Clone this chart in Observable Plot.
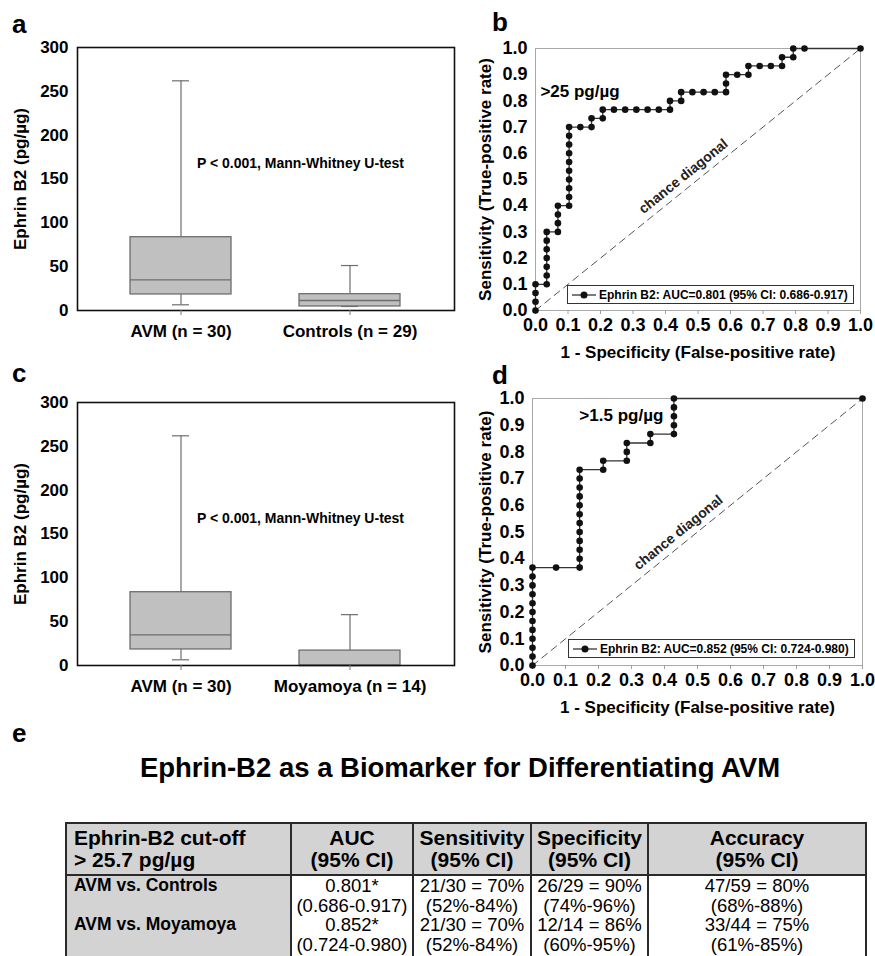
<!DOCTYPE html>
<html><head><meta charset="utf-8">
<script src="https://cdn.jsdelivr.net/npm/d3@7"></script>
<script src="https://cdn.jsdelivr.net/npm/@observablehq/plot@0.6"></script>
<style>
body{margin:0;background:#fff;}
#page{position:relative;width:875px;height:956px;overflow:hidden;background:#fff;font-family:Arial,"Liberation Sans",Helvetica,sans-serif;color:#000;}
.plab{position:absolute;font-weight:bold;font-size:26px;line-height:26px;}
.legend{position:absolute;background:#fff;border:1px solid #333;box-sizing:border-box;font-weight:bold;font-size:12px;line-height:16px;display:flex;align-items:center;white-space:nowrap;}
.legend svg{display:block;margin:0 3px 0 4px;}
#title{position:absolute;left:60px;width:800px;top:752px;text-align:center;font-weight:bold;font-size:27.5px;line-height:32px;}
#tbl{position:absolute;left:65px;top:822px;border-collapse:collapse;table-layout:fixed;width:800px;}
#tbl th,#tbl td{border:2px solid #2a2a2a;padding:0 2px;white-space:pre-line;}
#tbl th{background:#d3d3d3;font-weight:bold;text-align:center;padding:3px 2px;font-size:21px;line-height:22px;}
#tbl th.first{text-align:left;padding-left:7px;}
#tbl td{text-align:center;vertical-align:top;font-size:18.5px;line-height:19.5px;}
#tbl td.first{background:#d3d3d3;font-weight:bold;text-align:left;padding-left:7px;font-size:17.5px;}
#tbl tr.r0 td{border-bottom:none;padding-top:0;}
#tbl tr.r1 td{border-top:none;padding-bottom:12px;}
</style></head><body><div id="page"></div>
<script>
// ---------------- DATA ----------------
// Box plots (panel a)
const boxGroupsA = ["AVM (n = 30)", "Controls (n = 29)"];
const boxLowA  = [6.5, 4.6];
const boxQ1A   = [18.3, 4.6];
const boxMedA  = [35, 11.4];
const boxQ3A   = [83.6, 18.6];
const boxHighA = [262, 51.3];
// Box plots (panel c)
const boxGroupsC = ["AVM (n = 30)", "Moyamoya (n = 14)"];
const boxLowC  = [6.5, 0];
const boxQ1C   = [18.3, 0];
const boxMedC  = [35, 0];
const boxQ3C   = [83.6, 17];
const boxHighC = [262, 58];
const boxTicks = [0, 50, 100, 150, 200, 250, 300];
const boxYLabel = "Ephrin B2 (pg/µg)";
const boxNote = "P < 0.001, Mann-Whitney U-test";

// ROC curve b: false-positive counts (of 29 controls), true-positive counts (of 30 AVM)
const rocB_nNeg = 29, rocB_nPos = 30;
const rocB_fp = [0,0,0,0, 1,1,1,1,1,1,1, 2,2,2,2, 3,3,3,3,3,3,3,3,3,3,
                 4,5,5,6,6, 7,8,9,10,11,12,12, 13,13, 14,15,16,17,17,17,
                 18,19,19, 20,21,22,22, 23,23, 24, 29];
const rocB_tp = [0,1,2,3, 3,4,5,6,7,8,9, 9,10,11,12, 12,13,14,15,16,17,18,19,20,21,
                 21,21,22,22,23, 23,23,23,23,23,23,24, 24,25, 25,25,25,25,26,27,
                 27,27,28, 28,28,28,29, 29,30, 30, 30];
// ROC curve d: false-positive counts (of 14 Moyamoya), true-positive counts (of 30 AVM)
const rocD_nNeg = 14, rocD_nPos = 30;
const rocD_fp = [0,0,0,0,0,0,0,0,0,0,0,0, 1, 2,2,2,2,2,2,2,2,2,2,2,2,
                 3,3, 4,4,4, 5,5, 6,6,6,6,6, 14];
const rocD_tp = [0,1,2,3,4,5,6,7,8,9,10,11, 11, 11,12,13,14,15,16,17,18,19,20,21,22,
                 22,23, 23,24,25, 25,26, 26,27,28,29,30, 30];
const rocTicks = [0, 0.1, 0.2, 0.3, 0.4, 0.5, 0.6, 0.7, 0.8, 0.9, 1.0];
const chance = [0, 1];
const rocCutB = ">25 pg/µg", rocCutD = ">1.5 pg/µg";
const rocLegendB = "Ephrin B2: AUC=0.801 (95% CI: 0.686-0.917)";
const rocLegendD = "Ephrin B2: AUC=0.852 (95% CI: 0.724-0.980)";
const rocXTitle = "1 - Specificity (False-positive rate)";
const rocYTitle = "Sensitivity (True-positive rate)";
const diagLabel = "chance diagonal";

// Table (panel e)
const tableTitle = "Ephrin-B2 as a Biomarker for Differentiating AVM";
const tableHeader = ["Ephrin-B2 cut-off\n> 25.7 pg/µg", "AUC\n(95% CI)", "Sensitivity\n(95% CI)", "Specificity\n(95% CI)", "Accuracy\n(95% CI)"];
const comparisons = ["AVM vs. Controls", "AVM vs. Moyamoya"];
const aucVal = ["0.801*", "0.852*"];
const aucCI  = ["(0.686-0.917)", "(0.724-0.980)"];
const sensVal = ["21/30 = 70%", "21/30 = 70%"];
const sensCI  = ["(52%-84%)", "(52%-84%)"];
const specVal = ["26/29 = 90%", "12/14 = 86%"];
const specCI  = ["(74%-96%)", "(60%-95%)"];
const accVal = ["47/59 = 80%", "33/44 = 75%"];
const accCI  = ["(68%-88%)", "(61%-85%)"];
const panelLetters = ["a", "b", "c", "d", "e"];

// ---------------- DRAW ----------------
const FONT = 'Arial, "Liberation Sans", Helvetica, sans-serif';
const page = document.getElementById("page");

function place(el, left, top) {
  el.style.position = "absolute";
  el.style.left = left + "px";
  el.style.top = top + "px";
  page.appendChild(el);
}

function boxPanel({groups, lo, q1, med, q3, hi, left, top}) {
  const data = groups.map((g, i) => ({g, lo: lo[i], q1: q1[i], med: med[i], q3: q3[i], hi: hi[i]}));
  const W = 470, H = 350, mL = 77, mR = 16, mT = 47, mB = 40;
  const gray = "#6e6e6e";
  const svg = Plot.plot({
    width: W, height: H, marginLeft: mL, marginRight: mR, marginTop: mT, marginBottom: mB,
    style: {fontFamily: FONT, fontWeight: "bold", fontSize: "17px", color: "#000", background: "transparent", overflow: "visible"},
    x: {type: "band", domain: groups, paddingInner: 0.4, paddingOuter: 0.31},
    y: {domain: [0, 300]},
    marks: [
      Plot.ruleX(data, {x: "g", y1: "lo", y2: "q1", stroke: gray, strokeWidth: 1.2}),
      Plot.ruleX(data, {x: "g", y1: "q3", y2: "hi", stroke: gray, strokeWidth: 1.2}),
      Plot.tickY(data, {x: "g", y: "lo", inset: 42, stroke: gray, strokeWidth: 1.2}),
      Plot.tickY(data, {x: "g", y: "hi", inset: 42, stroke: gray, strokeWidth: 1.2}),
      Plot.barY(data, {x: "g", y1: "q1", y2: "q3", fill: "#c0c0c0", stroke: gray, strokeWidth: 1.3}),
      Plot.tickY(data, {x: "g", y: "med", stroke: gray, strokeWidth: 1.3}),
      Plot.frame({stroke: "#111", strokeWidth: 1.6}),
      Plot.axisY({ticks: boxTicks, tickSize: 0, tickPadding: 9, fontSize: 17, label: null}),
      Plot.axisX({tickSize: 5, tickPadding: 9, stroke: "#777", fontSize: 17, label: null}),
      Plot.text([boxYLabel], {text: d => d, frameAnchor: "left", textAnchor: "middle", lineAnchor: "middle", rotate: -90, dx: -57, fontSize: 17}),
      Plot.text([boxNote], {text: d => d, frameAnchor: "top", textAnchor: "middle", lineAnchor: "middle", dx: 34.5, dy: 116.5, fontSize: 14})
    ]
  });
  place(svg, left, top);
}

function rocPanel({fp, tp, nNeg, nPos, left, top, mL, mR, mT, mB, cut, cutX, cutY, diagX, diagY, yDx, legend, legLeft, legTop}) {
  const W = 405, H = 365;
  const pts = fp.map((f, i) => ({x: f / nNeg, y: tp[i] / nPos}));
  const pw = W - mL - mR, ph = H - mT - mB;
  const ang = -Math.atan2(ph, pw) * 180 / Math.PI;
  const fmt = d3.format(".1f");
  const svg = Plot.plot({
    width: W, height: H, marginLeft: mL, marginRight: mR, marginTop: mT, marginBottom: mB,
    style: {fontFamily: FONT, fontWeight: "bold", fontSize: "18px", color: "#000", background: "transparent", overflow: "visible"},
    x: {domain: [0, 1]},
    y: {domain: [0, 1]},
    marks: [
      Plot.frame({stroke: "#a8a8a8", strokeWidth: 1}),
      Plot.axisX({ticks: rocTicks, tickFormat: fmt, tickSize: 4, tickPadding: 4, stroke: "#a0a0a0", fontSize: 18, label: null}),
      Plot.axisY({ticks: rocTicks, tickFormat: fmt, tickSize: 0, tickPadding: 8, fontSize: 18, label: null}),
      Plot.line(chance, {x: d => d, y: d => d, stroke: "#555", strokeWidth: 1, strokeDasharray: "7,5"}),
      Plot.text([diagLabel], {text: d => d, x: () => diagX, y: () => diagY, rotate: ang, fontSize: 14, fill: "#222"}),
      Plot.line(pts, {x: "x", y: "y", stroke: "#333", strokeWidth: 1.3}),
      Plot.dot(pts, {x: "x", y: "y", r: 3.3, fill: "#111", stroke: "none"}),
      Plot.text([cut], {text: d => d, x: () => cutX, y: () => cutY, textAnchor: "start", fontSize: 17}),
      Plot.text([rocYTitle], {text: d => d, frameAnchor: "left", textAnchor: "middle", lineAnchor: "middle", rotate: -90, dx: yDx, fontSize: 17}),
      Plot.text([rocXTitle], {text: d => d, frameAnchor: "bottom", textAnchor: "middle", lineAnchor: "middle", dy: 42, fontSize: 17})
    ]
  });
  place(svg, left, top);
  // legend box
  const lg = document.createElement("div");
  lg.className = "legend";
  lg.style.width = "287px";
  lg.style.height = "19px";
  const ns = "http://www.w3.org/2000/svg";
  const s = document.createElementNS(ns, "svg");
  s.setAttribute("width", "24"); s.setAttribute("height", "10");
  const ln = document.createElementNS(ns, "line");
  ln.setAttribute("x1", "0"); ln.setAttribute("x2", "24"); ln.setAttribute("y1", "5"); ln.setAttribute("y2", "5");
  ln.setAttribute("stroke", "#333"); ln.setAttribute("stroke-width", "1.3");
  const c = document.createElementNS(ns, "circle");
  c.setAttribute("cx", "12"); c.setAttribute("cy", "5"); c.setAttribute("r", "3.5"); c.setAttribute("fill", "#111");
  s.appendChild(ln); s.appendChild(c);
  lg.appendChild(s);
  const sp = document.createElement("span");
  sp.textContent = legend;
  lg.appendChild(sp);
  place(lg, legLeft, legTop);
}

boxPanel({groups: boxGroupsA, lo: boxLowA, q1: boxQ1A, med: boxMedA, q3: boxQ3A, hi: boxHighA, left: 0, top: 0});
boxPanel({groups: boxGroupsC, lo: boxLowC, q1: boxQ1C, med: boxMedC, q3: boxQ3C, hi: boxHighC, left: 0, top: 355});

rocPanel({fp: rocB_fp, tp: rocB_tp, nNeg: rocB_nNeg, nPos: rocB_nPos, left: 470, top: 0,
  mL: 65, mR: 15, mT: 48, mB: 55, cut: rocCutB, cutX: 0.015, cutY: 0.835, diagX: 0.455, diagY: 0.512, yDx: -50,
  legend: rocLegendB, legLeft: 567, legTop: 285});
rocPanel({fp: rocD_fp, tp: rocD_tp, nNeg: rocD_nNeg, nPos: rocD_nPos, left: 470, top: 355,
  mL: 62, mR: 13, mT: 43, mB: 55, cut: rocCutD, cutX: 0.142, cutY: 0.936, diagX: 0.442, diagY: 0.498, yDx: -47,
  legend: rocLegendD, legLeft: 568, legTop: 639});

// panel letters
const letterPos = [[12, 11], [492, 9], [12, 360], [492, 362], [12, 720]];
panelLetters.forEach((t, i) => {
  const d = document.createElement("div");
  d.className = "plab";
  d.textContent = t;
  place(d, letterPos[i][0], letterPos[i][1]);
});

// title
const ttl = document.createElement("div");
ttl.id = "title";
ttl.textContent = tableTitle;
page.appendChild(ttl);

// table
const tbl = document.createElement("table");
tbl.id = "tbl";
const colW = [225, 122, 118, 117, 218];
const cg = document.createElement("colgroup");
colW.forEach(w => { const c = document.createElement("col"); c.style.width = w + "px"; cg.appendChild(c); });
tbl.appendChild(cg);
const hr = document.createElement("tr");
tableHeader.forEach((h, i) => {
  const th = document.createElement("th");
  if (i === 0) th.className = "first";
  th.textContent = h;
  hr.appendChild(th);
});
tbl.appendChild(hr);
comparisons.forEach((cmp, r) => {
  const tr = document.createElement("tr");
  tr.className = "r" + r;
  const cells = [cmp, aucVal[r] + "\n" + aucCI[r], sensVal[r] + "\n" + sensCI[r], specVal[r] + "\n" + specCI[r], accVal[r] + "\n" + accCI[r]];
  cells.forEach((v, i) => {
    const td = document.createElement("td");
    if (i === 0) td.className = "first";
    td.textContent = v;
    tr.appendChild(td);
  });
  tbl.appendChild(tr);
});
page.appendChild(tbl);
</script>
</body></html>
